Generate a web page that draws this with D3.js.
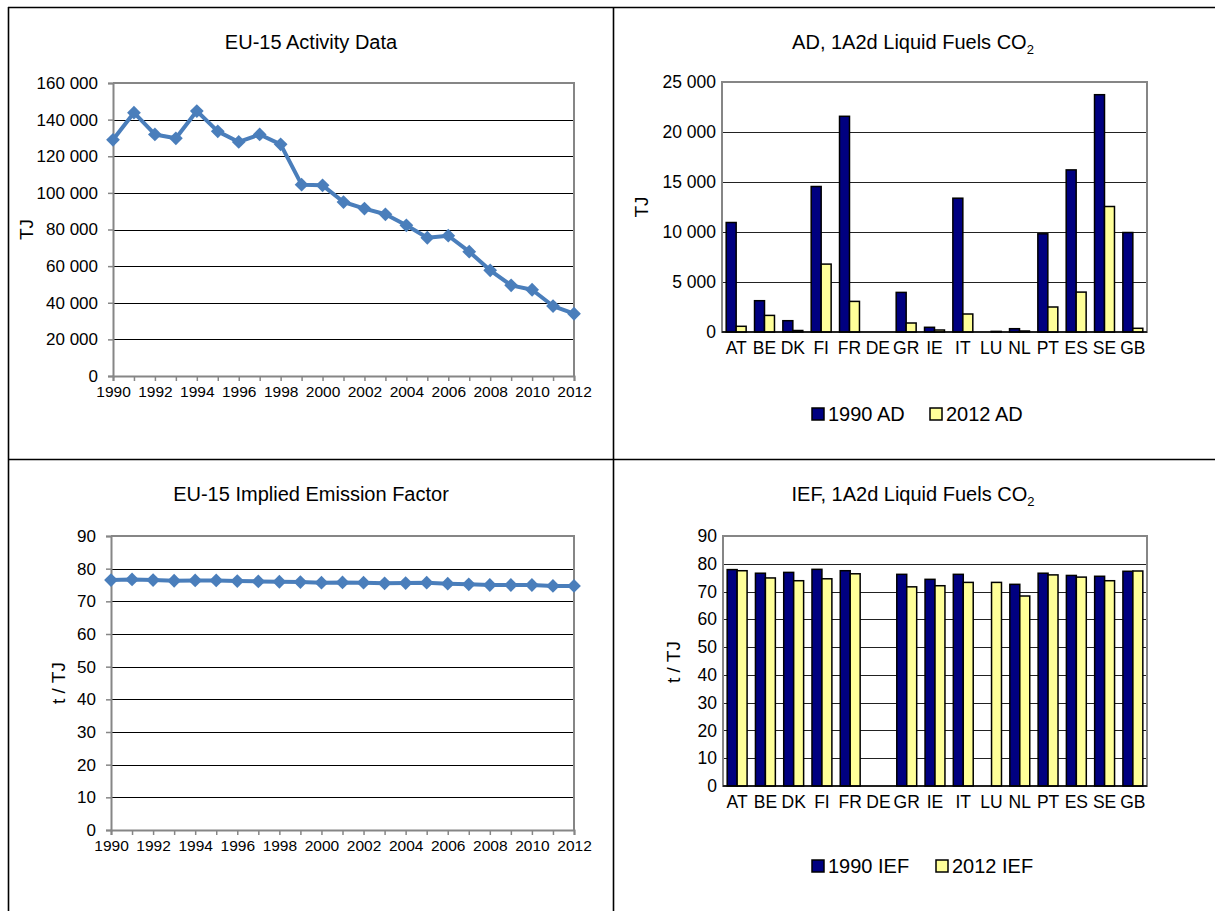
<!DOCTYPE html>
<html>
<head>
<meta charset="utf-8">
<script src="https://cdn.jsdelivr.net/npm/d3@7/dist/d3.min.js"></script>
<style>
  html, body { margin: 0; padding: 0; background: #fff; }
  svg { display: block; font-family: "Liberation Sans", Arial, sans-serif; }
  text { fill: #000; }
</style>
</head>
<body>
<svg id="page" width="1215" height="911"></svg>
<script>
// ---- data ----
const years = [1990, 1991, 1992, 1993, 1994, 1995, 1996, 1997, 1998, 1999, 2000, 2001,
               2002, 2003, 2004, 2005, 2006, 2007, 2008, 2009, 2010, 2011, 2012];
const yearLabels = [1990, 1992, 1994, 1996, 1998, 2000, 2002, 2004, 2006, 2008, 2010, 2012];

// EU-15 activity data, TJ
const activityData = [129000, 143800, 131900, 129800, 144700, 133600, 127800, 131900, 126500,
                      104500, 104100, 95000, 91400, 88300, 82300, 75500, 76600, 67900,
                      57700, 49500, 47100, 38200, 34000];
const activityTicks = [0, 20000, 40000, 60000, 80000, 100000, 120000, 140000, 160000];

// EU-15 implied emission factor, t / TJ
const iefData = [76.5, 76.7, 76.5, 76.3, 76.4, 76.4, 76.2, 76.1, 76.0, 75.9, 75.7, 75.8,
                 75.7, 75.5, 75.6, 75.7, 75.4, 75.2, 75.0, 75.0, 75.0, 74.7, 74.7];
const iefTicks = [0, 10, 20, 30, 40, 50, 60, 70, 80, 90];

// Member states
const countries = ["AT", "BE", "DK", "FI", "FR", "DE", "GR", "IE", "IT", "LU", "NL", "PT", "ES", "SE", "GB"];

// AD, 1A2d liquid fuels (TJ)
const ad1990 = [10950, 3130, 1130, 14550, 21570, null, 3960, 470, 13380, null, 330, 9820, 16210, 23730, 9950];
const ad2012 = [570, 1660, 150, 6790, 3060, null, 900, 200, 1800, 60, 100, 2500, 3990, 12550, 370];
const adTicks = [0, 5000, 10000, 15000, 20000, 25000];

// IEF, 1A2d liquid fuels (t / TJ)
const ief1990 = [77.9, 76.6, 76.9, 78.0, 77.5, null, 76.2, 74.4, 76.2, null, 72.6, 76.6, 75.8, 75.5, 77.3];
const ief2012 = [77.5, 74.9, 73.9, 74.6, 76.4, null, 71.7, 72.1, 73.3, 73.3, 68.4, 76.0, 75.2, 73.9, 77.4];

const NAVY = "#000080", PALE = "#ffff99", LINE = "#4a7ebb", FRAME = "#868686";
const FONT = "Liberation Sans, Arial, sans-serif";

const svg = d3.select("#page");
const fmtThousands = v => d3.format(",")(v).replace(/,/g, " ");

// ---- table frame around the four panels ----
const frame = svg.append("g").attr("stroke", "#000").attr("stroke-width", 1.6);
frame.append("line").attr("x1", 8).attr("x2", 1215).attr("y1", 7.5).attr("y2", 7.5);
frame.append("line").attr("x1", 8.5).attr("x2", 8.5).attr("y1", 7).attr("y2", 911);
frame.append("line").attr("x1", 613.5).attr("x2", 613.5).attr("y1", 7).attr("y2", 911);
frame.append("line").attr("x1", 8).attr("x2", 1215).attr("y1", 459.5).attr("y2", 459.5);

function title(g, x, y, main, sub) {
  const t = g.append("text").attr("x", x).attr("y", y).attr("text-anchor", "middle")
    .attr("font-size", 20).text(main);
  if (sub) {
    t.append("tspan").attr("font-size", 13).attr("dy", 5).text(sub);
  }
}

function yTitle(g, x, y, label) {
  g.append("text").attr("transform", `translate(${x},${y}) rotate(-90)`)
    .attr("text-anchor", "middle").attr("dy", "0.35em").attr("font-size", 19).text(label);
}

// ---- line panel ----
function linePanel(opt) {
  const g = svg.append("g");
  const x = d3.scaleLinear().domain([years[0], years[years.length - 1]]).range([opt.left, opt.right]);
  const y = d3.scaleLinear().domain([0, opt.ticks[opt.ticks.length - 1]]).range([opt.bottom, opt.top]);

  // gridlines
  g.append("g").selectAll("line").data(opt.ticks.slice(1, -1)).join("line")
    .attr("x1", opt.left).attr("x2", opt.right)
    .attr("y1", d => Math.round(y(d)) + 0.5).attr("y2", d => Math.round(y(d)) + 0.5)
    .attr("stroke", "#000").attr("stroke-width", 1);

  // plot border (top / right)
  g.append("path")
    .attr("d", `M${opt.left},${y(opt.ticks[opt.ticks.length - 1])}H${opt.right}V${opt.bottom}`)
    .attr("fill", "none").attr("stroke", FRAME).attr("stroke-width", 2);

  // y axis
  const ya = g.append("g").attr("transform", `translate(${opt.left},0)`)
    .call(d3.axisLeft(y).tickValues(opt.ticks).tickSize(5).tickPadding(10).tickFormat(opt.format));
  ya.select(".domain").attr("stroke", FRAME).attr("stroke-width", 2);
  ya.selectAll(".tick line").attr("stroke", FRAME).attr("stroke-width", 1.5);
  ya.selectAll("text").attr("font-size", 17).attr("font-family", FONT).attr("fill", "#000");

  // x axis
  const xa = g.append("g").attr("transform", `translate(0,${opt.bottom})`)
    .call(d3.axisBottom(x).tickValues(years).tickSize(5).tickPadding(5)
      .tickFormat(d => yearLabels.includes(d) ? String(d) : ""));
  xa.select(".domain").attr("stroke", FRAME).attr("stroke-width", 2);
  xa.selectAll(".tick line").attr("stroke", FRAME).attr("stroke-width", 1.5);
  xa.selectAll("text").attr("font-size", 15.5).attr("font-family", FONT).attr("fill", "#000");

  // series
  g.append("path").datum(opt.data)
    .attr("d", d3.line().x((d, i) => x(years[i])).y(d => y(d)))
    .attr("fill", "none").attr("stroke", LINE).attr("stroke-width", 4).attr("stroke-linejoin", "round");
  g.append("g").selectAll("path").data(opt.data).join("path")
    .attr("transform", (d, i) => `translate(${x(years[i])},${y(d)}) rotate(45)`)
    .attr("d", d3.symbol(d3.symbolSquare, 95)())
    .attr("fill", LINE);

  title(g, opt.titleX, opt.titleY, opt.title);
  yTitle(g, opt.yTitleX, (opt.top + opt.bottom) / 2, opt.yLabel);
}

// ---- grouped bar panel ----
function barPanel(opt) {
  const g = svg.append("g");
  const x0 = d3.scaleBand().domain(countries).range([opt.left, opt.right]).padding(0);
  const x1 = d3.scaleBand().domain(["1990", "2012"]).range([0, x0.bandwidth()])
    .paddingInner(0).paddingOuter(0.42);
  const y = d3.scaleLinear().domain([0, opt.ticks[opt.ticks.length - 1]]).range([opt.bottom, opt.top]);

  g.append("g").selectAll("line").data(opt.ticks.slice(1, -1)).join("line")
    .attr("x1", opt.left).attr("x2", opt.right)
    .attr("y1", d => Math.round(y(d)) + 0.5).attr("y2", d => Math.round(y(d)) + 0.5)
    .attr("stroke", "#222").attr("stroke-width", 1);

  g.append("rect").attr("x", opt.left).attr("y", opt.top)
    .attr("width", opt.right - opt.left).attr("height", opt.bottom - opt.top)
    .attr("fill", "none").attr("stroke", FRAME).attr("stroke-width", 2);

  const ya = g.append("g").attr("transform", `translate(${opt.left},0)`)
    .call(d3.axisLeft(y).tickValues(opt.ticks).tickSize(0).tickPadding(6).tickFormat(opt.format));
  ya.select(".domain").remove();
  ya.selectAll("text").attr("font-size", 17.5).attr("font-family", FONT).attr("fill", "#000");

  const series = [
    { key: "1990", values: opt.a, fill: NAVY },
    { key: "2012", values: opt.b, fill: PALE }
  ];
  series.forEach(s => {
    g.append("g").selectAll("rect")
      .data(countries.map((c, i) => ({ c, v: s.values[i] })).filter(d => d.v !== null))
      .join("rect")
      .attr("x", d => x0(d.c) + x1(s.key))
      .attr("width", x1.bandwidth())
      .attr("y", d => y(d.v))
      .attr("height", d => y(0) - y(d.v))
      .attr("fill", s.fill).attr("stroke", "#000").attr("stroke-width", 1.5);
  });

  g.append("line").attr("x1", opt.left).attr("x2", opt.right)
    .attr("y1", opt.bottom).attr("y2", opt.bottom).attr("stroke", "#000").attr("stroke-width", 1.5);

  const xa = g.append("g").attr("transform", `translate(0,${opt.bottom})`)
    .call(d3.axisBottom(x0).tickSize(0).tickPadding(10));
  xa.select(".domain").remove();
  xa.selectAll("text").attr("font-size", 17.5).attr("font-family", FONT).attr("fill", "#000");

  title(g, opt.titleX, opt.titleY, opt.title, "2");
  yTitle(g, opt.yTitleX, opt.yTitleY, opt.yLabel);

  // legend
  const lg = g.append("g");
  opt.legend.forEach((L, i) => {
    lg.append("rect").attr("x", L.x).attr("y", opt.legendY - 13).attr("width", 12).attr("height", 12)
      .attr("fill", series[i].fill).attr("stroke", "#000").attr("stroke-width", 1.5);
    lg.append("text").attr("x", L.x + 16).attr("y", opt.legendY).attr("font-size", 20).text(L.label);
  });
}

linePanel({
  data: activityData, ticks: activityTicks, format: fmtThousands,
  left: 113, right: 574, top: 83, bottom: 376,
  title: "EU-15 Activity Data", titleX: 311, titleY: 49,
  yLabel: "TJ", yTitleX: 26
});

linePanel({
  data: iefData, ticks: iefTicks, format: d3.format("d"),
  left: 111, right: 574, top: 536, bottom: 830,
  title: "EU-15 Implied Emission Factor", titleX: 311, titleY: 501,
  yLabel: "t / TJ", yTitleX: 58
});

barPanel({
  a: ad1990, b: ad2012, ticks: adTicks, format: fmtThousands,
  left: 722, right: 1147, top: 82, bottom: 332,
  title: "AD, 1A2d Liquid Fuels CO", titleX: 913, titleY: 49,
  yLabel: "TJ", yTitleX: 641, yTitleY: 207,
  legendY: 421,
  legend: [{ x: 812, label: "1990 AD" }, { x: 930, label: "2012 AD" }]
});

barPanel({
  a: ief1990, b: ief2012, ticks: iefTicks, format: d3.format("d"),
  left: 723, right: 1147, top: 536, bottom: 786,
  title: "IEF, 1A2d Liquid Fuels CO", titleX: 913, titleY: 501,
  yLabel: "t / TJ", yTitleX: 673, yTitleY: 662,
  legendY: 873,
  legend: [{ x: 812, label: "1990 IEF" }, { x: 936, label: "2012 IEF" }]
});
</script>
</body>
</html>
